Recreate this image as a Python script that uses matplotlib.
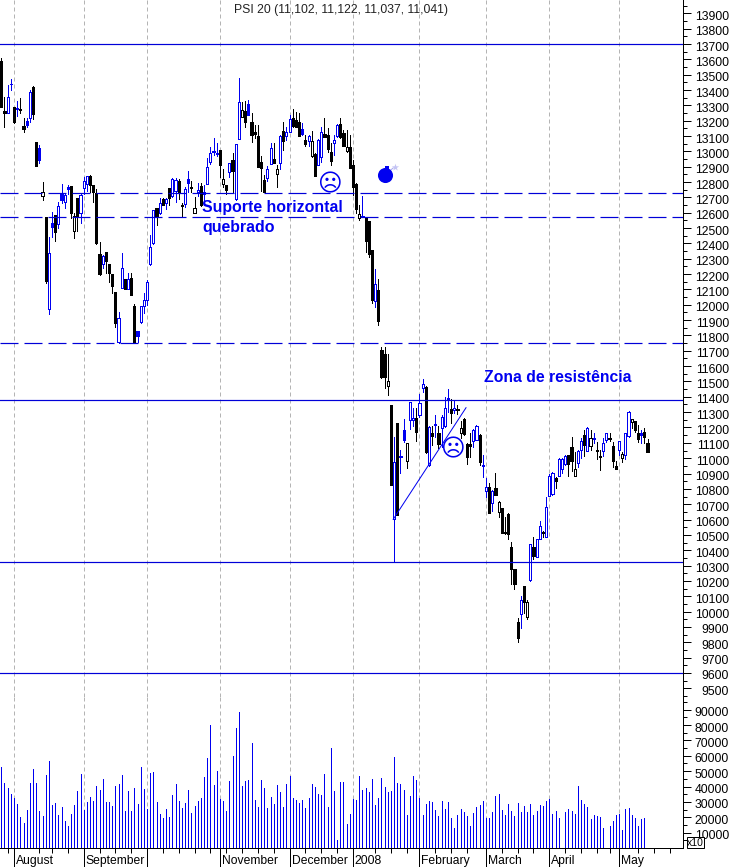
import matplotlib
matplotlib.use("Agg")
import matplotlib.pyplot as plt
from matplotlib.patches import Rectangle
from matplotlib.ticker import FixedLocator, NullFormatter
from matplotlib.transforms import ScaledTranslation

plt.rcParams['font.family'] = ['Liberation Sans', 'DejaVu Sans']

# bar kinds: bh blue hollow, bf blue filled, kh black hollow, kf black filled
kinds = """kf kf bh bf kf bh kf kf bf bh kf kf bf kh kf bh bf kf bh bf
bh bf kf kh kf bh bh bh kf kf kf kf bh kf kf kf kf bh bh kf
bh kf kf bf bh bh bh bh bh kf bh kf bh kf bh bh kf kf bh bf
kf kh bh kf bh bh bh bf bf kf kh kf bh kf bh bh kh kf bf kf
kf kf kf kf bh bh kf kh bh kf bh bh kf kf kf bf kf bh kh kf
bh bh kf kf kf bh bh kf kf kh kf kf kf kh bh kf kf kf bh kf
kf kf kh kf bh kf bf bf kh bh bh kf bh bh kf bh kf bf kf bh
bh bf kf bh kf kh kf kf kf bh bh kf bh bh kf bh kf kh kf kf
kf kf kf kf bh kf kh bh kf bh bh kf bh bh bh kf bh bh bh kf
kf kh bh bh kf bh kh bf kf kf bh bh kf kf kf bh kh bh bh kh
kf kf bf kf kf""".split()

highs = [13606, 13357, 13433, 13470, 13287, 13328, 13346, 13215, 13215, 13400,
         13426, 13061, 13041, 12800, 12570, 12444, 12603, 12585, 12668, 12787,
         12720, 12781, 12774, 12596, 12698, 12722, 12835, 12839, 12846, 12781,
         12755, 12411, 12324, 12344, 12266, 12201, 12085, 11955, 12335, 12166,
         12205, 12205, 12005, 11829, 11994, 12075, 12161, 12455, 12618, 12629,
         12694, 12694, 12698, 12759, 12824, 12824, 12818, 12661, 12770, 12872,
         12809, 12705, 12796, 12792, 12781, 12955, 13031, 13085, 13057, 13009,
         12883, 12781, 12926, 12987, 13048, 13480, 13324, 13330, 13334, 13248,
         13171, 13171, 12969, 12846, 12904, 13052, 13052, 12911, 13106, 13193,
         13161, 13237, 13274, 13258, 13248, 13182, 13106, 13106, 13135, 12987,
         13078, 13161, 13215, 13150, 13052, 13106, 13176, 13215, 13139, 13139,
         13106, 12943, 12791, 12650, 12709, 12570, 12548, 12357, 12233, 12165,
         11722, 11722, 11679, 11346, 11140, 11227, 11053, 11253, 11096, 11364,
         11325, 11325, 11416, 11516, 11470, 11209, 11209, 11281, 11209, 11281,
         11396, 11448, 11383, 11375, 11346, 11242, 11264, 11096, 11162, 11188,
         11216, 11155, 11020, 10868, 10836, 10792, 10901, 10723, 10677, 10618,
         10644, 10451, 10277, 9956, 10103, 10166, 10075, 10438, 10484, 10471,
         10590, 10527, 10749, 10897, 10912, 10875, 10999, 10999, 11020, 11020,
         11140, 11042, 11053, 11129, 11183, 11201, 11183, 11166, 11107, 11053,
         11129, 11162, 11162, 11107, 10984, 11114, 11042, 11162, 11307, 11253,
         11244, 11216, 11183, 11194, 11122]

tops = [13589, 13263, 13357, 13441, 13287, 13283, 13276, 13165, 13196, 13385,
        13422, 13061, 13024, 12733, 12570, 12335, 12533, 12585, 12642, 12720,
        12716, 12768, 12774, 12581, 12698, 12718, 12807, 12839, 12839, 12781,
        12726, 12329, 12316, 12344, 12266, 12201, 12085, 11912, 12237, 12166,
        12168, 12174, 11992, 11829, 11994, 12031, 12146, 12374, 12616, 12629,
        12661, 12687, 12692, 12759, 12820, 12813, 12805, 12653, 12753, 12818,
        12768, 12629, 12750, 12774, 12733, 12898, 12987, 13002, 12992, 13009,
        12820, 12781, 12922, 12944, 13046, 13324, 13269, 13265, 13306, 13193,
        13128, 13102, 12930, 12813, 12887, 13019, 12950, 12882, 13100, 13132,
        13128, 13208, 13219, 13204, 13193, 13143, 13074, 13100, 13067, 12980,
        13074, 13124, 13113, 13106, 12995, 13072, 13171, 13178, 13117, 13026,
        13026, 12911, 12785, 12591, 12578, 12567, 12546, 12357, 12133, 12096,
        11705, 11679, 11501, 11346, 10972, 11227, 11014, 11183, 11096, 11364,
        11259, 11259, 11357, 11481, 11466, 11205, 11166, 11222, 11162, 11266,
        11325, 11390, 11320, 11325, 11318, 11194, 11257, 11090, 11090, 11183,
        11209, 11151, 10953, 10810, 10814, 10788, 10803, 10716, 10673, 10516,
        10636, 10423, 10277, 9930, 10073, 10166, 10062, 10438, 10419, 10471,
        10555, 10521, 10679, 10881, 10905, 10873, 10992, 10992, 11014, 11020,
        11075, 10927, 11047, 11114, 11151, 11196, 11129, 11133, 11053, 11014,
        11097, 11162, 11133, 11079, 10949, 11110, 11025, 11162, 11301, 11253,
        11240, 11162, 11162, 11168, 11102]

bottoms = [13291, 13252, 13252, 13437, 13194, 13274, 13272, 13144, 13170, 13215,
           13244, 12905, 12944, 12711, 12157, 11975, 12507, 12477, 12529, 12683,
           12668, 12755, 12600, 12481, 12574, 12596, 12761, 12787, 12781, 12733,
           12400, 12201, 12264, 12287, 12205, 12122, 11879, 11757, 12111, 12100,
           12100, 12064, 11759, 11799, 11885, 11994, 12031, 12266, 12400, 12579,
           12596, 12650, 12661, 12694, 12709, 12744, 12733, 12646, 12657, 12796,
           12759, 12596, 12737, 12650, 12720, 12785, 12931, 12994, 12983, 12911,
           12785, 12748, 12868, 12872, 12687, 13083, 13226, 13193, 13237, 13106,
           13111, 12900, 12895, 12733, 12828, 12919, 12926, 12854, 12926, 13065,
           13102, 13128, 13165, 13156, 13102, 13113, 13048, 13069, 12972, 12841,
           12913, 12965, 13095, 13015, 12939, 13052, 13102, 13095, 13035, 13000,
           12893, 12769, 12622, 12563, 12572, 12415, 12328, 12031, 12026, 11896,
           11531, 11527, 11470, 10825, 10601, 10629, 11009, 11118, 10983, 11248,
           11248, 11172, 11281, 11459, 11042, 10955, 11144, 11214, 11090, 11194,
           11209, 11379, 11292, 11316, 11312, 11162, 11155, 11009, 11079, 11114,
           11118, 10977, 10946, 10788, 10644, 10705, 10760, 10647, 10514, 10510,
           10505, 10275, 10180, 9825, 9986, 10064, 9962, 10203, 10362, 10358,
           10473, 10514, 10484, 10755, 10766, 10853, 10884, 10929, 10960, 10960,
           10984, 10886, 10970, 11053, 11086, 11049, 11081, 11125, 11044, 11005,
           11049, 11118, 11125, 10984, 10927, 11053, 11003, 11018, 11144, 11233,
           11183, 11127, 11153, 11140, 11041]

lows = [13291, 13161, 13252, 13400, 13183, 13231, 13248, 13128, 13157, 13194,
        13211, 12905, 12926, 12683, 12140, 11940, 12444, 12416, 12498, 12661,
        12633, 12722, 12563, 12437, 12483, 12535, 12722, 12744, 12737, 12670,
        12396, 12192, 12242, 12205, 12151, 12074, 11857, 11753, 12111, 12100,
        12100, 12064, 11753, 11759, 11879, 11944, 11998, 12259, 12396, 12520,
        12592, 12650, 12624, 12650, 12705, 12672, 12687, 12574, 12640, 12737,
        12737, 12596, 12711, 12646, 12650, 12785, 12918, 12976, 12970, 12835,
        12770, 12722, 12835, 12726, 12683, 13083, 13226, 13161, 13237, 13063,
        13085, 12900, 12743, 12733, 12809, 12917, 12922, 12769, 12887, 13008,
        13074, 13128, 13161, 13156, 13102, 13106, 13037, 13035, 12965, 12841,
        12911, 12932, 13095, 12998, 12911, 12976, 13095, 13085, 13035, 12998,
        12893, 12715, 12596, 12552, 12572, 12346, 12313, 12009, 11987, 11868,
        11524, 11459, 11411, 10825, 10325, 10629, 10901, 11107, 10933, 11188,
        11209, 11112, 11266, 11433, 11031, 10949, 11086, 11140, 11064, 11075,
        11205, 11303, 11227, 11296, 11288, 11129, 11151, 10962, 11009, 11070,
        11118, 10955, 10875, 10744, 10640, 10657, 10760, 10618, 10510, 10505,
        10475, 10180, 10147, 9804, 9895, 9988, 9949, 10199, 10342, 10358,
        10471, 10484, 10484, 10755, 10760, 10807, 10884, 10905, 10955, 10884,
        10918, 10886, 10944, 10999, 11014, 11047, 11053, 11097, 10994, 10923,
        11016, 11107, 11114, 10944, 10927, 11020, 10977, 10992, 11140, 11194,
        11168, 11107, 11097, 11101, 11037]

volumes = [52500, 42200, 38900, 35000, 32400, 28400, 19900, 16000, 24500, 42200,
           51400, 42200, 23800, 20500, 47400, 56600, 27800, 29100, 21200, 26500,
           17300, 14600, 21900, 27800, 36900, 48100, 24500, 29700, 33000, 30400,
           40200, 37600, 44800, 29700, 29700, 27100, 40200, 41500, 47400, 23800,
           36900, 23800, 38900, 28400, 52700, 38300, 25100, 48700, 49400, 29700,
           21900, 19200, 25100, 19900, 34300, 41500, 30400, 25800, 29100, 37600,
           22500, 27100, 30400, 32400, 46100, 58600, 80200, 40900, 50100, 31700,
           30400, 23800, 43500, 59900, 78300, 88800, 40200, 43500, 44200, 68400,
           31000, 26500, 44200, 38900, 25800, 33000, 28400, 40900, 36300, 26500,
           41500, 46800, 32400, 31000, 29100, 31000, 25800, 32400, 41500, 39600,
           35000, 34300, 48100, 26500, 65100, 36900, 5500, 42800, 42800, 15300,
           21900, 31700, 31000, 46800, 37600, 38900, 36300, 44800, 27800, 32400,
           45500, 39600, 36300, 36900, 59200, 42200, 41500, 37600, 21200, 33700,
           46800, 44200, 32400, 21200, 28400, 30400, 29700, 24500, 20500, 30400,
           25100, 29700, 19200, 12700, 21200, 25100, 23200, 20500, 14600, 22500,
           26500, 27800, 30400, 19200, 19200, 23200, 33700, 35000, 24500, 21200,
           28400, 23800, 20500, 29100, 23200, 27100, 23200, 28400, 21200, 23800,
           27800, 27100, 30400, 31700, 21900, 23800, 19200, 0, 23200, 25100,
           23800, 21900, 40200, 31000, 28400, 26500, 18600, 21200, 20500, 19900,
           13300, 0, 14000, 17300, 21200, 21900, 11400, 25100, 25800, 21200,
           19200, 14000, 18600, 19200, 0]

# month separators, as bar numbers
month_bars = [4, 26, 46, 69, 91, 111, 132, 153, 173, 195]
month_names = ["August", "September", "", "November", "December", "2008",
               "February", "March", "April", "May"]
week_bars = [2, 12, 16, 21, 31, 36, 41, 51, 56, 61, 66, 71, 76, 81, 86, 96, 101, 106,
             118, 123, 128, 137, 142, 147, 158, 163, 168, 178, 183, 188, 192, 201, 206, 211]

solid_levels = [13700, 11380, 10325, 9600]
dashed_levels = [12730, 12570, 11750]
title = "PSI 20 (11,102, 11,122, 11,037, 11,041)"

W, H = 733, 867
BLUE = '#0000f0'
LINE = '#0000d8'
PX = 0.72  # one pixel, in points at dpi 100
bars = list(range(len(highs)))

fig = plt.figure(figsize=(W / 100, H / 100), dpi=100)
ax = fig.add_axes([0, 1 - 697 / H, 683 / W, 697 / H])
vol = fig.add_axes([0, 1 - 848 / H, 683 / W, 151 / H], sharex=ax)

ax.set_xlim(-0.42, 215.2)
ax.set_ylim(9443, 13987)
vol.set_ylim(0, 98240)

for a in (ax, vol):
    for m in month_bars:
        a.axvline(m, color='#b4b4b4', lw=PX, ls=(0, (4, 3)), zorder=0)
    a.spines['top'].set_visible(False)
    a.spines['left'].set_visible(False)
    a.spines['bottom'].set_visible(False)
    a.spines['right'].set_linewidth(PX)
    a.patch.set_visible(False)
    a.yaxis.tick_right()
vol.spines['bottom'].set_visible(True)
vol.spines['bottom'].set_linewidth(PX)

# candles
for i in bars:
    col = BLUE if kinds[i][0] == 'b' else 'black'
    face = 'white' if kinds[i][1] == 'h' else col
    ax.vlines(i, lows[i], highs[i], color=col, lw=PX, zorder=2, antialiased=False)
    ax.bar(i, tops[i] - bottoms[i], bottom=bottoms[i], width=0.68, facecolor=face,
           edgecolor=col, linewidth=PX, zorder=3, antialiased=False)

# support / resistance levels and trend line
for lev in solid_levels:
    ax.axhline(lev, color=LINE, lw=PX * 1.2, zorder=4)
for lev in dashed_levels:
    ax.axhline(lev, color=LINE, lw=PX * 1.2, ls=(0, (15, 5)), zorder=4)
ax.plot([123.7, 146.7], [10601, 11329], color=BLUE, lw=PX, zorder=4)

# volume
vol.vlines(bars, 0, volumes, color=BLUE, lw=PX, antialiased=False, zorder=2)

# price axis
ax.set_yticks(range(9500, 14000, 100))
ax.yaxis.set_minor_locator(FixedLocator(range(9450, 14000, 100)))
vol.set_yticks(range(10000, 100000, 10000))
vol.yaxis.set_minor_locator(FixedLocator(range(5000, 100000, 10000)))
down = ScaledTranslation(0, -2 / 100, fig.dpi_scale_trans)
for a in (ax, vol):
    a.tick_params(axis='y', which='major', length=8 * PX, width=PX, pad=38 * PX,
                  labelsize=8.7, labelright=True, labelleft=False)
    a.tick_params(axis='y', which='minor', length=4 * PX, width=PX)
    for lab in a.get_yticklabels():
        lab.set_horizontalalignment('right')
        lab.set_transform(lab.get_transform() + down)

# time axis
ax.tick_params(axis='x', which='both', bottom=False, labelbottom=False)
vol.set_xticks(month_bars)
vol.set_xticklabels([])
vol.xaxis.set_minor_locator(FixedLocator(week_bars))
vol.xaxis.set_minor_formatter(NullFormatter())
vol.tick_params(axis='x', which='major', length=19 * PX, width=PX)
vol.tick_params(axis='x', which='minor', length=5 * PX, width=PX)
for m, name in zip(month_bars, month_names):
    vol.annotate(name, xy=(m, 0), xycoords=vol.get_xaxis_transform(), xytext=(2, -13),
                 textcoords='offset pixels', fontsize=8.7, ha='left', va='center',
                 annotation_clip=False)

# notes on the chart
ax.text(63.5, 12637, "Suporte horizontal", color=BLUE, fontsize=11.4, fontweight='bold',
        va='center', zorder=5)
ax.text(63.5, 12507, "quebrado", color=BLUE, fontsize=11.4, fontweight='bold',
        va='center', zorder=5)
ax.text(152.4, 11529, "Zona de resistência", color=BLUE, fontsize=11.3, fontweight='bold',
        va='center', zorder=5)
for fx, fy in [(103.5, 12782), (142.5, 11055)]:
    ax.text(fx, fy, "\u2639", color=BLUE, fontsize=17, family='DejaVu Sans',
            ha='center', va='center', zorder=5)

# bomb
ax.plot([121.1, 123.7], [12846, 12892], color='#a8a8f0', lw=PX, zorder=5)
ax.scatter([121.1], [12846], s=118, color=BLUE, linewidths=0, zorder=6)
ax.scatter([121.6], [12895], s=12, color=BLUE, marker='s', linewidths=0, zorder=6)
ax.scatter([124.2], [12900], s=30, color='#c4c4f4', marker='*', linewidths=0, zorder=6)

fig.text(341 / W, 1 - 10 / H, title, fontsize=8.8, ha='center', va='center', color='#222222')

# x10 box of the volume scale
fig.add_artist(Rectangle((686.5 / W, 1 - 848 / H), 17.5 / W, 11 / H, transform=fig.transFigure,
                         facecolor='white', edgecolor='black', linewidth=PX))
fig.text(695 / W, 1 - 843 / H, "x10", fontsize=7.5, ha='center', va='center')

fig.savefig("out.png", dpi=100, facecolor='white')
